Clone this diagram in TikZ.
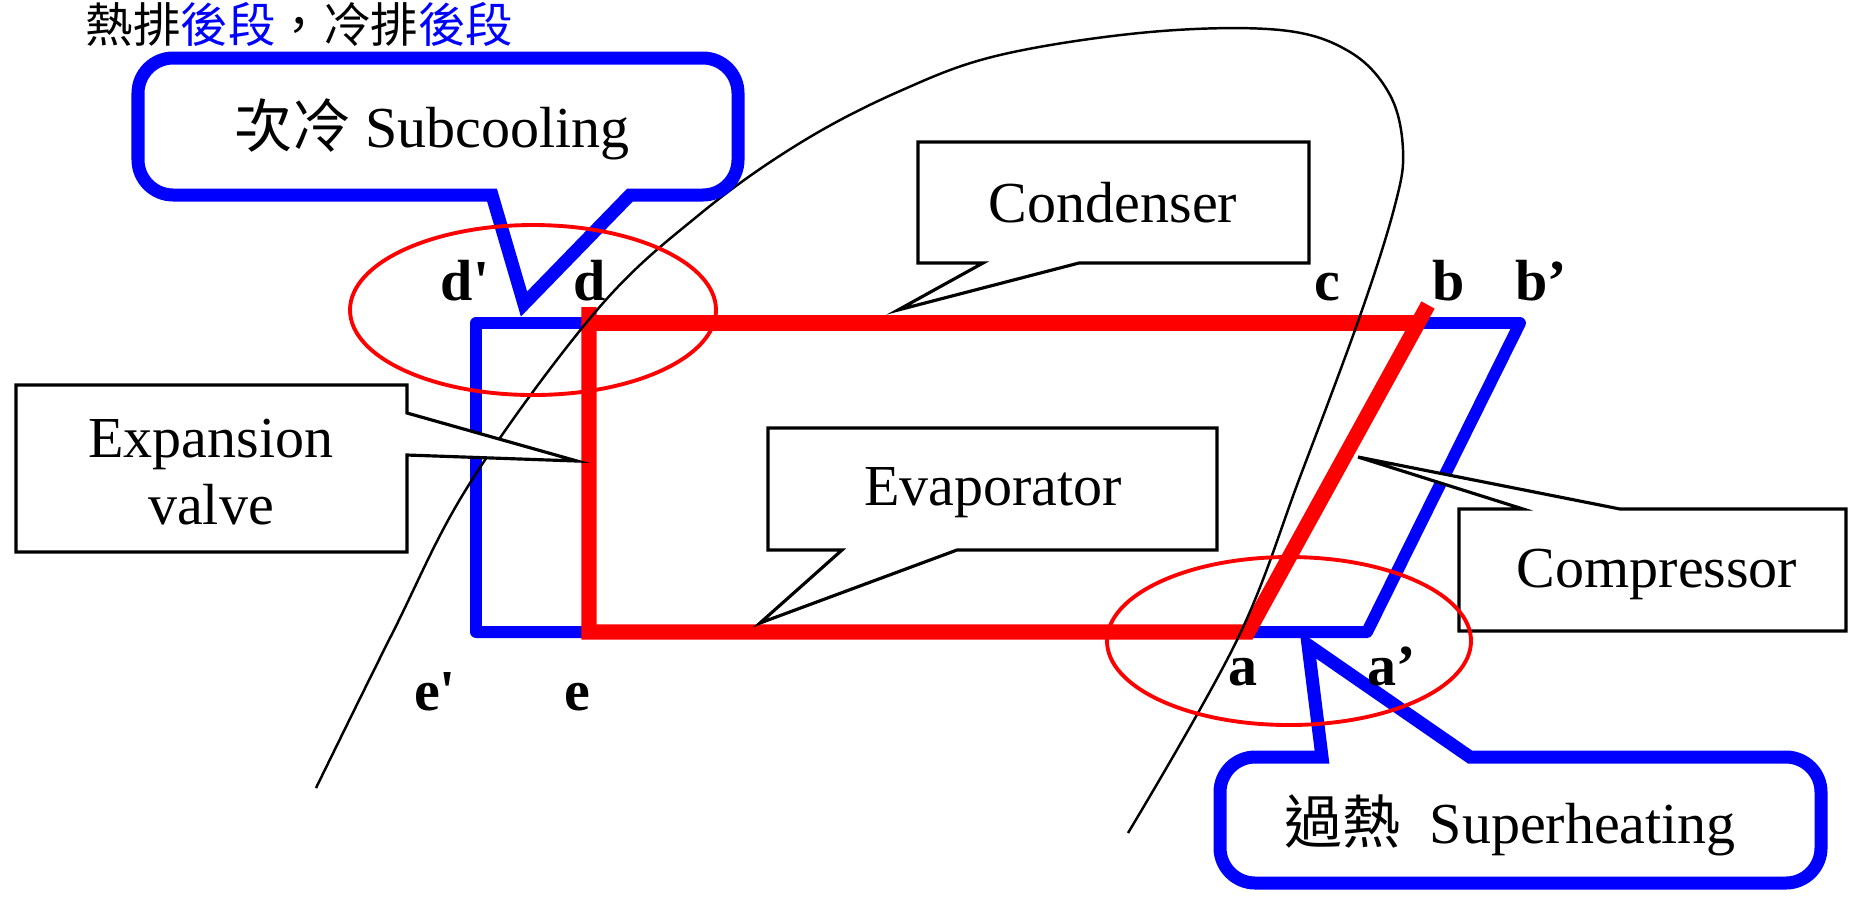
\documentclass[tikz,border=0pt]{standalone}
\usepackage{fontspec}
\setmainfont{Liberation Serif}
\newfontfamily\cjk{Noto Sans CJK TC}
\usepackage{tikz}

\begin{document}
\begin{tikzpicture}[x=0.01cm, y=-0.01cm,
    every node/.style={font=\fontsize{16.5}{19}\selectfont, inner sep=0pt},
    lbl/.style={font=\fontsize{16.5}{19}\selectfont\bfseries, anchor=base},
    note/.style={draw, line width=0.9pt, fill=white},
    bubble/.style={draw=blue, line width=3.7pt, fill=white},
    hot/.style={draw=red, line width=4.3pt},
    cold/.style={draw=blue, line width=3.4pt, line join=round},
    ring/.style={draw=red, line width=1.1pt},
    dome/.style={draw, line width=0.7pt}]
  \useasboundingbox (0,0) rectangle (1849,896);

  \node[anchor=north west, font=\cjk\fontsize{13.5}{16}\selectfont] (head) at (85,2)
    {熱排\textcolor{blue}{後段}，冷排\textcolor{blue}{後段}};

  % states of the two cycles
  \coordinate (dp) at (476,323);
  \coordinate (bp) at (1520,323);
  \coordinate (ap) at (1367,632);
  \coordinate (ep) at (476,632);
  \coordinate (d)  at (589,307);
  \coordinate (dd) at (589,323);
  \coordinate (e)  at (589,632);
  \coordinate (a)  at (1248,632);
  \coordinate (b)  at (1428,305);
  \coordinate (bb) at (1419,323);

  \draw[cold] (dp) -- (bp) -- (ap) -- (ep) -- cycle;
  \draw[hot] (d) -- (e) -- (a) -- (b);
  \draw[hot] (dd) -- (bb);

  % saturation dome
  \draw[dome] plot[smooth, tension=0.6] coordinates {(316,788) (393,632) (470,483)
    (597,310) (700,214) (800,143) (900,91) (1000,55) (1150,32) (1280,30) (1350,52)
    (1390,95) (1403,150) (1395,205) (1361,313) (1300,477) (1237,640) (1128,833)};

  % callouts
  \draw[bubble] (492,195) [rounded corners=10pt] -- (138,195) -- (138,58) -- (738,58)
    -- (738,195) [sharp corners] -- (630,195) -- (524,304) -- cycle;
  \node[anchor=base west] (subt) at (234,147) {{\cjk 次冷} Subcooling};

  \draw[note] (918,142) -- (1309,142) -- (1309,263) -- (1079,263) -- (898,310)
    -- (983,263) -- (918,263) -- cycle;
  \node[anchor=base] (cond) at (1113,222) {Condenser};

  \draw[note] (16,385) -- (407,385) -- (407,413) -- (577,461) -- (407,455)
    -- (407,552) -- (16,552) -- cycle;
  \node[align=center] (expv) at (211,472) {Expansion\\valve};

  \draw[note] (768,428) -- (1217,428) -- (1217,550) -- (957,550) -- (760,623)
    -- (842,550) -- (768,550) -- cycle;
  \node[anchor=base] (evap) at (993,505) {Evaporator};

  \draw[note] (1459,509) -- (1523,509) -- (1358,457) -- (1620,509) -- (1846,509)
    -- (1846,631) -- (1459,631) -- cycle;
  \node[anchor=base] (comp) at (1657,587) {Compressor};

  \draw[bubble] (1322,757) [rounded corners=10pt] -- (1220,757) -- (1220,883)
    -- (1821,883) -- (1821,757) [sharp corners] -- (1470,757) -- (1308,645) -- cycle;
  \node[anchor=base west] (supt) at (1284,843) {{\cjk 過熱}\ \ Superheating};

  \draw[ring] (533,310) ellipse [x radius=183, y radius=85];
  \draw[ring] (1289,641) ellipse [x radius=182, y radius=84];

  \node[lbl] (ldp) at (465,300) {d\textquotesingle};
  \node[lbl] (ld)  at (590,300) {d};
  \node[lbl] (lc)  at (1327,300) {c};
  \node[lbl] (lb)  at (1449,300) {b};
  \node[lbl] (lbp) at (1541,300) {b’};
  \node[lbl] (la)  at (1243,685) {a};
  \node[lbl] (lap) at (1392,685) {a’};
  \node[lbl] (lep) at (435,710) {e\textquotesingle};
  \node[lbl] (le)  at (577,710) {e};
\end{tikzpicture}
\end{document}
